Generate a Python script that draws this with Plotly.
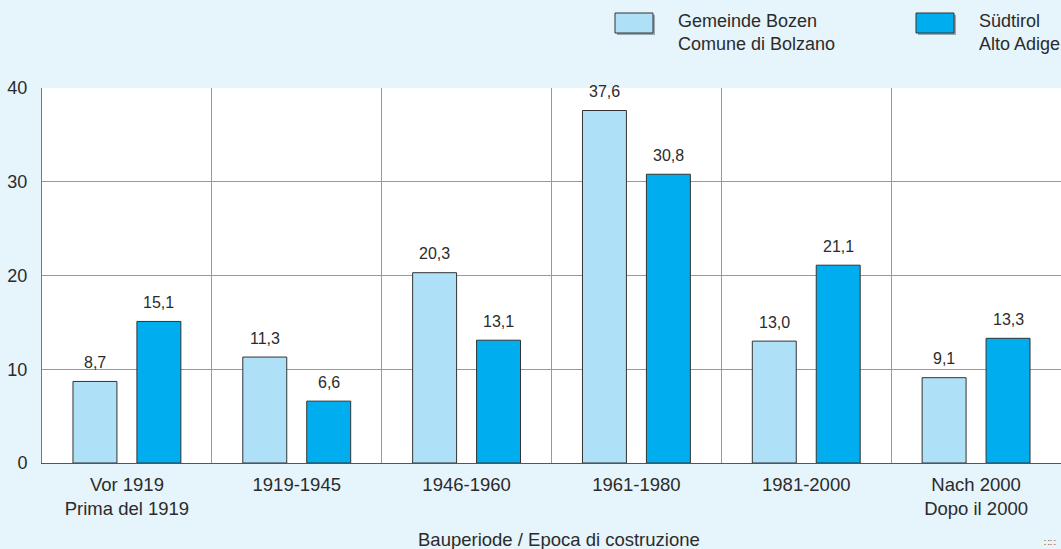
import plotly.graph_objects as go

categories = ["Vor 1919<br>Prima del 1919", "1919-1945", "1946-1960", "1961-1980",
              "1981-2000", "Nach 2000<br>Dopo il 2000"]
bozen = [8.7, 11.3, 20.3, 37.6, 13.0, 9.1]
suedtirol = [15.1, 6.6, 13.1, 30.8, 21.1, 13.3]
series_names = ["Gemeinde Bozen<br>Comune di Bolzano", "Südtirol<br>Alto Adige"]
y_ticks = [0, 10, 20, 30, 40]
x_title = "Bauperiode / Epoca di costruzione"

W, H = 1061, 549
ML, MR, MT, MB = 42, 0, 88, 86
FONT = "Liberation Sans, Arial, sans-serif"
TXT = "#2b2b2b"
LIGHT = "#AEE1F8"
DARK = "#00AEEF"
BG = "#E6F4FC"
BAR_OFFSET_PX = 32


def fmt(v):
    return f"{v:.1f}".replace(".", ",")


fig = go.Figure()
for name, vals, col in [(series_names[0], bozen, LIGHT), (series_names[1], suedtirol, DARK)]:
    fig.add_trace(go.Bar(
        x=categories, y=vals, name=name,
        marker=dict(color=col, line=dict(color="#333333", width=1)),
        showlegend=False, hoverinfo="skip",
    ))


def px(x):
    return (x - ML) / (W - ML - MR)


def py(y):
    return (H - MB - y) / (H - MT - MB)


shapes = []
annotations = []

# value labels, positioned on the data axes
for vals, sgn in [(bozen, -1), (suedtirol, 1)]:
    for c, v in zip(categories, vals):
        annotations.append(dict(x=c, y=v, xref="x", yref="y", text=fmt(v),
                                showarrow=False, xanchor="center", yanchor="middle",
                                xshift=sgn * BAR_OFFSET_PX, yshift=19,
                                font=dict(family=FONT, size=16, color=TXT)))

legend_items = [(615, 676, LIGHT, series_names[0]), (916, 977, DARK, series_names[1])]
for bx, tx, col, name in legend_items:
    shapes.append(dict(type="rect", xref="paper", yref="paper",
                       x0=px(bx + 2), x1=px(bx + 40), y0=py(15), y1=py(35),
                       fillcolor="#9aa7ae", line=dict(width=0), layer="above"))
    shapes.append(dict(type="rect", xref="paper", yref="paper",
                       x0=px(bx), x1=px(bx + 38), y0=py(13), y1=py(33),
                       fillcolor=col, line=dict(color="#333333", width=1), layer="above"))
    annotations.append(dict(xref="paper", yref="paper", x=px(tx), y=py(9),
                            xanchor="left", yanchor="top", align="left",
                            text=name, showarrow=False,
                            font=dict(family=FONT, size=18, color=TXT)))

annotations.append(dict(xref="paper", yref="paper", x=px(559), y=py(539),
                        xanchor="center", yanchor="middle", text=x_title,
                        showarrow=False, font=dict(family=FONT, size=18.5, color=TXT)))
annotations.append(dict(xref="paper", yref="paper", x=px(1058), y=py(543),
                        xanchor="right", yanchor="middle", text="∷∷",
                        showarrow=False, font=dict(family=FONT, size=9, color="#555555")))

fig.update_layout(
    width=W, height=H,
    margin=dict(l=ML, r=MR, t=MT, b=MB, pad=0),
    paper_bgcolor=BG, plot_bgcolor="white",
    barmode="group", bargap=0.247, bargroupgap=0.3125,
    font=dict(family=FONT, size=18, color=TXT),
    shapes=shapes, annotations=annotations,
    xaxis=dict(type="category", tickson="boundaries", showgrid=True,
               gridcolor="#999999", gridwidth=1, ticks="", ticklen=0,
               showline=True, linecolor="#555555", linewidth=1, mirror=False,
               tickfont=dict(family=FONT, size=18.5, color=TXT),
               range=[-0.5, 5.5], fixedrange=True, ticklabelstandoff=5),
    yaxis=dict(range=[0, 40], tickvals=y_ticks, showgrid=True,
               gridcolor="#999999", gridwidth=1, zeroline=False,
               showline=True, linecolor="#777777", linewidth=1, mirror=True,
               ticks="", tickfont=dict(family=FONT, size=18, color=TXT),
               ticklabelstandoff=10, fixedrange=True),
)

fig.write_html("out.html", config={"displayModeBar": False},
               post_script="document.body.style.margin='0';document.body.style.overflow='hidden';")
